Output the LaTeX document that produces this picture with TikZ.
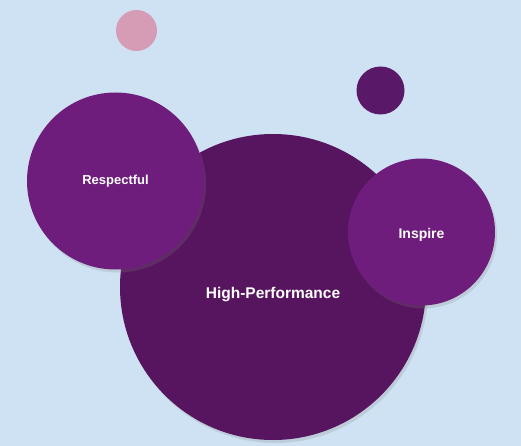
\documentclass[tikz,border=0pt]{standalone}
\usepackage{fontspec}
\setmainfont{Liberation Sans}
\usepackage{xcolor}
\usetikzlibrary{shadows}
\definecolor{bgblue}{HTML}{CFE2F3}
\definecolor{deeppurple}{HTML}{57155F}
\definecolor{midpurple}{HTML}{6E1D7C}
\definecolor{dotpurple}{HTML}{5A1868}
\definecolor{dotpink}{HTML}{D69BB5}
\begin{document}
\begin{tikzpicture}[x=1pt,y=-1pt,
bubble/.style={circle,inner sep=0pt,
  drop shadow={opacity=0.22,shadow xshift=2pt,shadow yshift=-3pt}},
dot/.style={circle,inner sep=0pt},
word/.style={anchor=base,text=white,inner sep=0pt}]
\fill[bgblue](0,0)rectangle(521,446);
\useasboundingbox(0,0)rectangle(521,446);
\node[dot,fill=dotpink,minimum size=41pt](pink) at (136.5,30.5){};
\node[dot,fill=dotpurple,minimum size=48pt](dark) at (380.5,90.5){};
\node[bubble,fill=deeppurple,minimum size=306pt](high) at (273,287){};
\node[word,font=\bfseries\fontsize{15.5}{18}\selectfont](highlabel) at (273,298.5){High-Performance};
\node[bubble,fill=midpurple,minimum size=177pt](resp) at (115.5,181){};
\node[word,font=\bfseries\fontsize{13}{15}\selectfont](resplabel) at (115.5,184.5){Respectful};
\node[bubble,fill=midpurple,minimum size=147pt](insp) at (421.5,232){};
\node[word,font=\bfseries\fontsize{14}{16}\selectfont](insplabel) at (421.5,238.5){Inspire};
\end{tikzpicture}
\end{document}
